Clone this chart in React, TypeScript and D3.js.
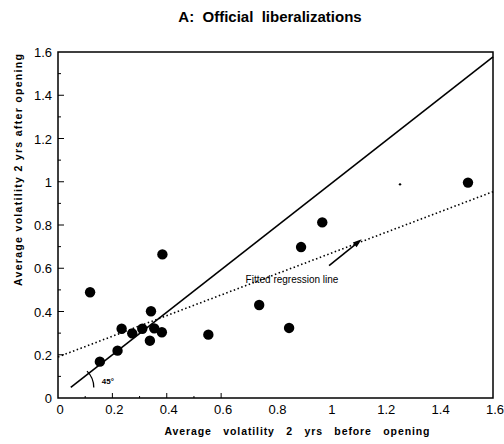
import React from "react";
import * as d3 from "d3";

const titleText = "A:  Official  liberalizations";
const xTitle = "Average   volatility   2   yrs   before   opening";
const yTitle = "Average volatility 2 yrs after opening";

const xBefore = [0.118, 0.384, 0.154, 0.219, 0.234, 0.273, 0.31, 0.342, 0.354, 0.338, 0.382, 0.553, 0.74, 0.85, 0.894, 0.972, 1.508];
const yAfter = [0.489, 0.664, 0.168, 0.219, 0.32, 0.299, 0.32, 0.401, 0.322, 0.265, 0.304, 0.293, 0.43, 0.324, 0.698, 0.812, 0.996];

const diagX = [0.047, 1.6];
const diagY = [0.049, 1.578];
const regX = [0.0, 1.6];
const regY = [0.19, 0.954];
const arrowX = [0.997, 1.117];
const arrowY = [0.612, 0.734];
const speckX = [1.258];
const speckY = [0.988];

const xTicks = [0, 0.2, 0.4, 0.6, 0.8, 1, 1.2, 1.4, 1.6];
const yTicks = [0, 0.2, 0.4, 0.6, 0.8, 1, 1.2, 1.4, 1.6];
const yMinor = [0.1, 0.3, 0.5, 0.7, 0.9, 1.1, 1.3, 1.5];
const xInnerTicks = [0.1, 0.2, 0.3, 0.4, 0.5, 0.6];

export default function App() {
  const x = d3.scaleLinear().domain([0, 1.6]).range([58, 493]);
  const y = d3.scaleLinear().domain([0, 1.6]).range([398, 52]);
  const font = "'Liberation Sans', Arial, sans-serif";
  const line = d3.line<[number, number]>().x((d) => x(d[0])).y((d) => y(d[1]));
  const fmt = (v: number) => String(v);

  const px0 = x(arrowX[0]), py0 = y(arrowY[0]), px1 = x(arrowX[1]), py1 = y(arrowY[1]);
  const ang = Math.atan2(py1 - py0, px1 - px0);
  const hl = 9, hw = 3;
  const head = [
    [px1, py1],
    [px1 - hl * Math.cos(ang) + hw * Math.sin(ang), py1 - hl * Math.sin(ang) - hw * Math.cos(ang)],
    [px1 - hl * Math.cos(ang) - hw * Math.sin(ang), py1 - hl * Math.sin(ang) + hw * Math.cos(ang)],
  ];

  const cx = x(diagX[0]), cy = y(diagY[0]);
  const r = 23;
  const arcPath = `M ${cx + r * Math.cos(-Math.PI / 4)} ${cy + r * Math.sin(-Math.PI / 4)} A ${r} ${r} 0 0 1 ${cx + r} ${cy}`;

  return (
    <svg width={504} height={444} style={{ position: "absolute", left: 0, top: 0, background: "#fff" }} fontFamily={font}>
      <text x={270} y={22} textAnchor="middle" fontSize={15} fontWeight="bold" style={{ whiteSpace: "pre" }}>{titleText}</text>

      <rect x={x(0)} y={y(1.6)} width={x(1.6) - x(0)} height={y(0) - y(1.6)} fill="none" stroke="#000" strokeWidth={1.5} />

      {yTicks.slice(1, -1).map((t) => (
        <line key={"ym" + t} x1={x(0)} x2={x(0) + 6} y1={y(t)} y2={y(t)} stroke="#000" strokeWidth={1} />
      ))}
      {yMinor.map((t) => (
        <line key={"yn" + t} x1={x(0)} x2={x(0) + 3} y1={y(t)} y2={y(t)} stroke="#000" strokeWidth={1} />
      ))}
      {xInnerTicks.map((t) => (
        <line key={"xi" + t} x1={x(t)} x2={x(t)} y1={y(0)} y2={y(0) - (Math.round(t * 10) % 2 === 0 ? 5 : 2)} stroke="#000" strokeWidth={1} />
      ))}

      {yTicks.map((t) => (
        <text key={"yl" + t} x={52} y={y(t) + 5} textAnchor="end" fontSize={13}>{fmt(t)}</text>
      ))}
      {xTicks.map((t) => (
        <text key={"xl" + t} x={x(t) + 2} y={414} textAnchor="middle" fontSize={13}>{fmt(t)}</text>
      ))}

      <text x={297} y={435} textAnchor="middle" fontSize={10.5} fontWeight="bold" textLength={265} lengthAdjust="spacing" style={{ whiteSpace: "pre" }}>{xTitle}</text>
      <text transform={`translate(22,170) rotate(-90)`} textAnchor="middle" fontSize={10.5} fontWeight="bold" textLength={232} lengthAdjust="spacing">{yTitle}</text>

      <path d={line(diagX.map((v, i) => [v, diagY[i]]) as [number, number][]) || ""} stroke="#000" strokeWidth={1.6} fill="none" />
      <path d={line(regX.map((v, i) => [v, regY[i]]) as [number, number][]) || ""} stroke="#000" strokeWidth={1.6} strokeDasharray="1.5,2.5" fill="none" />

      <path d={arcPath} stroke="#000" strokeWidth={1.3} fill="none" />
      <text x={cx + 31} y={cy - 3} fontSize={8} fontWeight="bold">45°</text>

      <line x1={px0} y1={py0} x2={px1 - 4 * Math.cos(ang)} y2={py1 - 4 * Math.sin(ang)} stroke="#000" strokeWidth={1.6} />
      <polygon points={head.map((p) => p.join(",")).join(" ")} fill="#000" />
      <text x={x(0.69)} y={y(0.53)} fontSize={10}>Fitted regression line</text>

      {xBefore.map((v, i) => (
        <circle key={"p" + i} cx={x(v)} cy={y(yAfter[i])} r={5.2} fill="#000" />
      ))}
      {speckX.map((v, i) => (
        <circle key={"s" + i} cx={x(v)} cy={y(speckY[i])} r={1.2} fill="#000" />
      ))}
    </svg>
  );
}
